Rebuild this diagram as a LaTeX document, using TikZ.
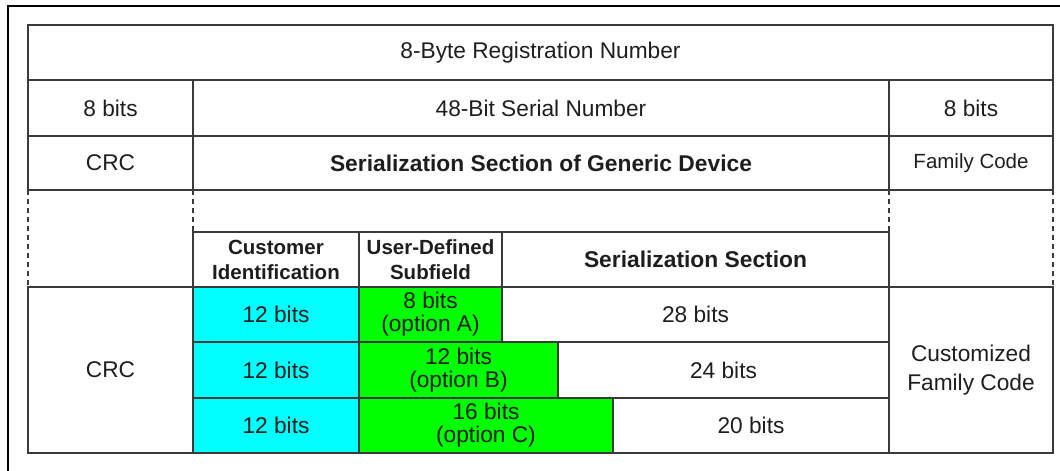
\documentclass[tikz,border=0pt]{standalone}
\usepackage{fontspec}
\setmainfont{Liberation Sans}

\definecolor{rulegray}{HTML}{3A3A3A}
\definecolor{txtgray}{HTML}{1E1E1E}
\definecolor{custcyan}{HTML}{00FFFF}
\definecolor{userlime}{HTML}{00FF00}

\tikzset{
  lbl/.style={text=txtgray,align=center,inner sep=0pt,font=\fontsize{22.7}{23}\selectfont},
  lblwide/.style={lbl,font=\fontsize{22.7}{28.5}\selectfont},
  lblsm/.style={lbl,font=\fontsize{20.5}{25}\selectfont},
  hdr/.style={lbl,font=\bfseries\fontsize{22.8}{27}\selectfont},
  hdrsm/.style={lbl,font=\bfseries\fontsize{20.5}{25}\selectfont},
  rule/.style={draw=rulegray,line width=1.8pt},
  guide/.style={rule,dash pattern=on 5pt off 4pt},
}

\begin{document}
\begin{tikzpicture}[x=1pt,y=-1pt]
\useasboundingbox (0,0) rectangle (1060,471);

\fill[custcyan] (193,287) rectangle (359,453);
\fill[userlime] (359,287) rectangle (502,342);
\fill[userlime] (359,342) rectangle (558,398);
\fill[userlime] (359,398) rectangle (613,453);

\draw[line width=2pt] (8,471) -- (8,6) -- (1060,6);

\draw[rule] (28,190) -- (28,25) -- (1053,25) -- (1053,190);
\draw[rule] (28,80) -- (1053,80);
\draw[rule] (28,136) -- (1053,136);
\draw[rule] (28,190) -- (1053,190);
\draw[rule] (193,80) -- (193,190);
\draw[rule] (889,80) -- (889,190);

\draw[guide] (28,190) -- (28,287);
\draw[guide] (193,190) -- (193,232);
\draw[guide] (889,190) -- (889,232);
\draw[guide] (1053,190) -- (1053,287);

\draw[rule] (28,287) rectangle (1053,453);
\draw[rule] (193,232) rectangle (889,453);
\draw[rule] (193,342) -- (889,342);
\draw[rule] (193,398) -- (889,398);
\draw[rule] (359,232) -- (359,453);
\draw[rule] (502,232) -- (502,342);
\draw[rule] (558,342) -- (558,398);
\draw[rule] (613,398) -- (613,453);

\draw (540.5,52.5) node(REG)[lbl]{8-Byte Registration Number};
\draw (110.5,108) node(CRCBITS)[lbl]{8 bits};
\draw (541,108) node(SERIAL)[lbl]{48-Bit Serial Number};
\draw (971,108) node(FAMBITS)[lbl]{8 bits};
\draw (110.5,163) node(CRC)[lbl]{CRC};
\draw (541,163) node(GENERIC)[hdr]{Serialization Section of Generic Device};
\draw (971,163) node(FAMILY)[lblsm]{Family Code};

\draw (276,259.5) node(CUSTHDR)[hdrsm]{Customer\\Identification};
\draw (430.5,259.5) node(USERHDR)[hdrsm]{User-Defined\\Subfield};
\draw (695.5,259.5) node(SERHDR)[hdr]{Serialization Section};

\draw (276,314.5) node(CUSTA)[lbl]{12 bits};
\draw (276,370) node(CUSTB)[lbl]{12 bits};
\draw (276,425.5) node(CUSTC)[lbl]{12 bits};
\draw (430.5,314.5) node(OPTA)[lbl]{8 bits\\(option A)};
\draw (458.5,370) node(OPTB)[lbl]{12 bits\\(option B)};
\draw (486,425.5) node(OPTC)[lbl]{16 bits\\(option C)};
\draw (695.5,314.5) node(SERA)[lbl]{28 bits};
\draw (723.5,370) node(SERB)[lbl]{24 bits};
\draw (751,425.5) node(SERC)[lbl]{20 bits};

\draw (110.5,370) node(CRCLOW)[lbl]{CRC};
\draw (971,370) node(CUSTFAM)[lblwide]{Customized\\Family Code};

\end{tikzpicture}
\end{document}
